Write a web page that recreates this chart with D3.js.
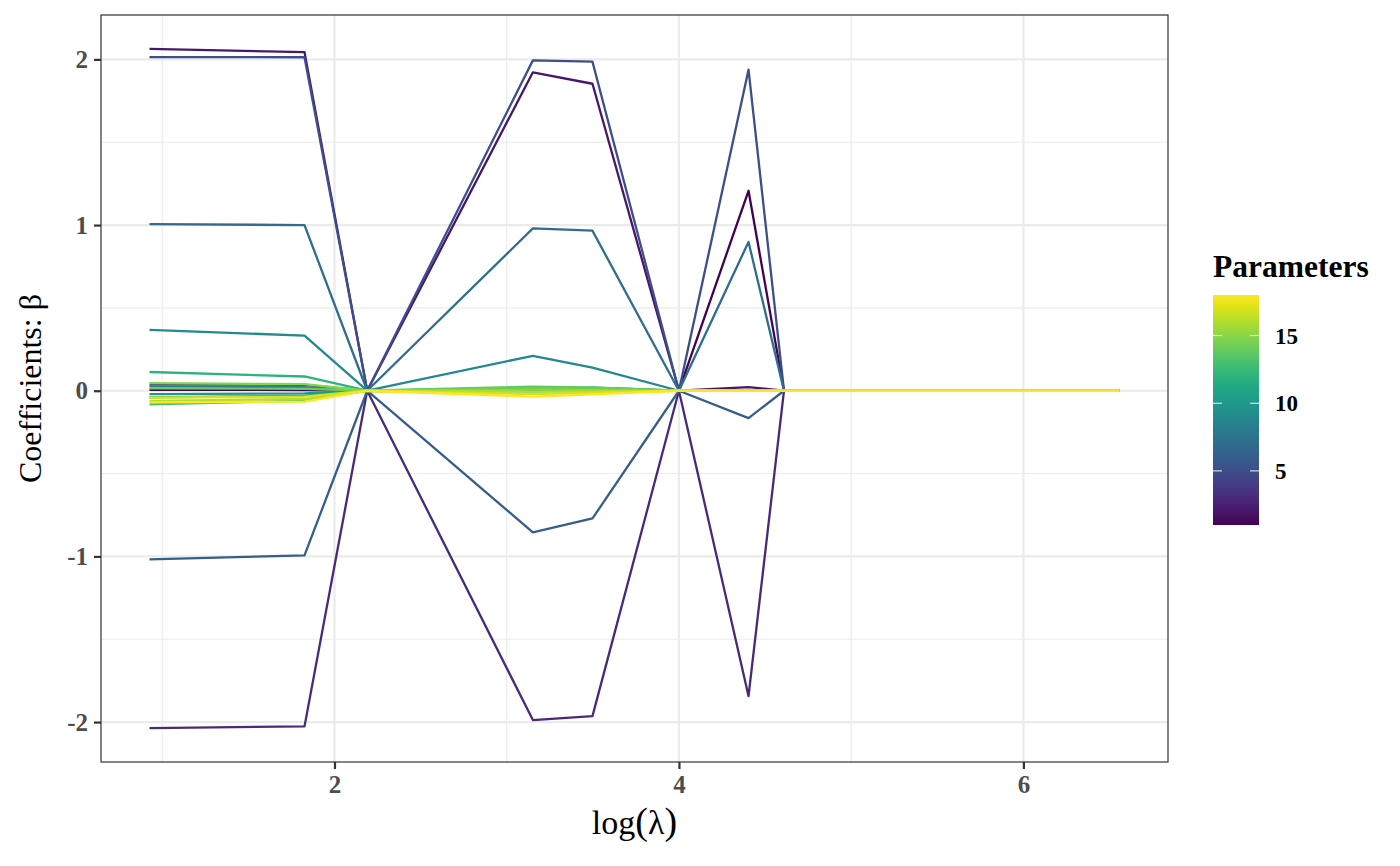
<!DOCTYPE html>
<html>
<head>
<meta charset="utf-8">
<script src="https://cdn.jsdelivr.net/npm/d3@7"></script>
<style>
  body { margin: 0; background: #fff; }
  text { font-family: "Liberation Serif", "Times New Roman", serif; }
</style>
</head>
<body>
<div id="chart"></div>
<script>
// x positions of the path (log lambda)
var logLambda = [0.926, 1.826, 2.19, 3.152, 3.498, 4.0, 4.404, 4.61, 6.558];

// parameter index 1..18, coefficient at each logLambda value
var parameters = d3.range(1, 19);
var coefficients = [
  [ 0.006,  0.004, 0,  0.012,  0.010, 0,  1.207, 0, 0],
  [ 2.063,  2.044, 0,  1.922,  1.853, 0,  0.022, 0, 0],
  [-2.036, -2.026, 0, -1.988, -1.964, 0, -1.843, 0, 0],
  [ 0.038,  0.036, 0,  0.005,  0.018, 0,  0,     0, 0],
  [ 2.014,  2.013, 0,  1.994,  1.986, 0,  1.938, 0, 0],
  [-1.018, -0.994, 0, -0.855, -0.771, 0, -0.165, 0, 0],
  [ 1.006,  1.000, 0,  0.980,  0.966, 0,  0.898, 0, 0],
  [ 0.026,  0.022, 0,  0.004,  0.003, 0,  0,     0, 0],
  [ 0.367,  0.333, 0,  0.211,  0.140, 0,  0,     0, 0],
  [-0.020, -0.016, 0,  0.002,  0.001, 0,  0,     0, 0],
  [-0.040, -0.030, 0, -0.004, -0.002, 0,  0,     0, 0],
  [ 0.113,  0.086, 0,  0.010,  0.008, 0,  0,     0, 0],
  [-0.082, -0.060, 0,  0.018,  0.012, 0,  0,     0, 0],
  [ 0.014,  0.012, 0,  0.025,  0.020, 0,  0,     0, 0],
  [ 0.046,  0.040, 0,  0.008,  0.006, 0,  0,     0, 0],
  [-0.062, -0.050, 0, -0.005, -0.003, 0,  0,     0, 0],
  [-0.042, -0.036, 0, -0.020, -0.012, 0,  0,     0, 0],
  [-0.070, -0.066, 0, -0.035, -0.022, 0,  0,     0, 0]
];

var xBreaks = [2, 4, 6], xMinor = [1, 3, 5];
var yBreaks = [-2, -1, 0, 1, 2], yMinor = [-1.5, -0.5, 0.5, 1.5];
var legendBreaks = [5, 10, 15];

var width = 1400, height = 866;
var panel = {left: 101, right: 1168, top: 15, bottom: 762};

var svg = d3.select("#chart").append("svg")
            .attr("width", width)
            .attr("height", height);

// ggplot-like 5% expansion of the data range
function expand(ext) {
  var d = (ext[1] - ext[0]) * 0.05;
  return [ext[0] - d, ext[1] + d];
}
var allCoef = d3.merge(coefficients);

var xScale = d3.scaleLinear()
               .domain(expand(d3.extent(logLambda)))
               .range([panel.left, panel.right]);
var yScale = d3.scaleLinear()
               .domain(expand(d3.extent(allCoef)))
               .range([panel.bottom, panel.top]);
var colour = d3.scaleSequential(d3.interpolateViridis)
               .domain(d3.extent(parameters));

// grid: minor first, then major
svg.append("g").selectAll("line")
   .data(yMinor).enter().append("line")
   .attr("x1", panel.left).attr("x2", panel.right)
   .attr("y1", d => yScale(d)).attr("y2", d => yScale(d))
   .style("stroke", "#ebebeb").style("stroke-width", 1.1);
svg.append("g").selectAll("line")
   .data(xMinor).enter().append("line")
   .attr("y1", panel.top).attr("y2", panel.bottom)
   .attr("x1", d => xScale(d)).attr("x2", d => xScale(d))
   .style("stroke", "#ebebeb").style("stroke-width", 1.1);
svg.append("g").selectAll("line")
   .data(yBreaks).enter().append("line")
   .attr("x1", panel.left).attr("x2", panel.right)
   .attr("y1", d => yScale(d)).attr("y2", d => yScale(d))
   .style("stroke", "#ebebeb").style("stroke-width", 2.2);
svg.append("g").selectAll("line")
   .data(xBreaks).enter().append("line")
   .attr("y1", panel.top).attr("y2", panel.bottom)
   .attr("x1", d => xScale(d)).attr("x2", d => xScale(d))
   .style("stroke", "#ebebeb").style("stroke-width", 2.2);

// coefficient paths, one per parameter
var line = d3.line()
             .x((d, i) => xScale(logLambda[i]))
             .y(d => yScale(d));

svg.append("g").selectAll("path")
   .data(coefficients).enter().append("path")
   .attr("d", line)
   .style("fill", "none")
   .style("stroke", (d, i) => colour(parameters[i]))
   .style("stroke-width", 2.3)
   .style("stroke-linejoin", "round");

// panel border
svg.append("rect")
   .attr("x", panel.left).attr("y", panel.top)
   .attr("width", panel.right - panel.left)
   .attr("height", panel.bottom - panel.top)
   .style("fill", "none").style("stroke", "#333333").style("stroke-width", 1.2);

// axes
var xAxis = d3.axisBottom(xScale).tickValues(xBreaks).tickSize(7).tickPadding(6)
              .tickFormat(d3.format("d"));
var yAxis = d3.axisLeft(yScale).tickValues(yBreaks).tickSize(7).tickPadding(6)
              .tickFormat(d => d < 0 ? "-" + Math.abs(d) : d);

var gx = svg.append("g")
            .attr("transform", "translate(0," + panel.bottom + ")")
            .call(xAxis);
var gy = svg.append("g")
            .attr("transform", "translate(" + panel.left + ",0)")
            .call(yAxis);

[gx, gy].forEach(function(g) {
  g.select(".domain").remove();
  g.selectAll(".tick line").style("stroke", "#333333").style("stroke-width", 2.2);
  g.selectAll(".tick text")
   .style("font-family", "'Liberation Serif', 'Times New Roman', serif")
   .style("font-weight", "bold")
   .style("font-size", "25px")
   .style("fill", "#4d4d4d");
});

// axis titles
svg.append("text")
   .attr("transform", "translate(41," + (panel.top + panel.bottom) / 2 + ") rotate(-90)")
   .attr("text-anchor", "middle")
   .style("font-size", "32px")
   .text("Coefficients: β");

var xt = svg.append("text")
            .attr("x", (panel.left + panel.right) / 2)
            .attr("y", 834)
            .attr("text-anchor", "middle")
            .style("font-size", "34px");
xt.append("tspan").text("log");
xt.append("tspan").style("font-size", "38px").text("(");
xt.append("tspan").text("λ");
xt.append("tspan").style("font-size", "38px").text(")");

// colourbar legend
var bar = {x: 1213, w: 46, top: 295, bottom: 525};
var legScale = d3.scaleLinear().domain(d3.extent(parameters)).range([bar.bottom, bar.top]);

var grad = svg.append("defs").append("linearGradient")
              .attr("id", "vir")
              .attr("x1", 0).attr("y1", 1).attr("x2", 0).attr("y2", 0);
grad.selectAll("stop")
    .data(d3.range(0, 1.0001, 0.05)).enter().append("stop")
    .attr("offset", d => d)
    .attr("stop-color", d => d3.interpolateViridis(d));

svg.append("text")
   .attr("x", bar.x).attr("y", 277)
   .style("font-size", "31.5px").style("font-weight", "bold")
   .text("Parameters");

svg.append("rect")
   .attr("x", bar.x).attr("y", bar.top)
   .attr("width", bar.w).attr("height", bar.bottom - bar.top)
   .style("fill", "url(#vir)");

var lt = svg.append("g");
lt.selectAll("line.l").data(legendBreaks).enter().append("line")
  .attr("x1", bar.x).attr("x2", bar.x + 9)
  .attr("y1", d => legScale(d)).attr("y2", d => legScale(d))
  .style("stroke", "#f2f2f2").style("stroke-width", 1);
lt.selectAll("line.r").data(legendBreaks).enter().append("line")
  .attr("x1", bar.x + bar.w - 9).attr("x2", bar.x + bar.w)
  .attr("y1", d => legScale(d)).attr("y2", d => legScale(d))
  .style("stroke", "#f2f2f2").style("stroke-width", 1);
lt.selectAll("text").data(legendBreaks).enter().append("text")
  .attr("x", 1275)
  .attr("y", d => legScale(d))
  .attr("dy", "0.35em")
  .style("font-size", "23px").style("font-weight", "bold")
  .text(d => d);
</script>
</body>
</html>
